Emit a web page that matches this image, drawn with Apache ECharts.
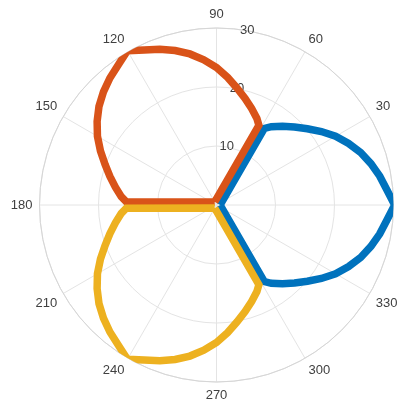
<!DOCTYPE html>
<html>
<head>
<meta charset="utf-8">
<script src="https://cdn.jsdelivr.net/npm/echarts@6/dist/echarts.min.js"></script>
<style>
  html, body { margin: 0; padding: 0; background: #fff; }
  #chart { width: 399px; height: 406px; }
</style>
</head>
<body>
<div id="chart"></div>
<script>
// petal centre directions (deg) and the colours MATLAB uses for them
var petalCenters = [0, 120, 240];
var petalColors = ['#0072BD', '#D95319', '#EDB120'];

// one petal: angle relative to its centre, radius
var profileAngles = [0, -58, -55, -50, -45, -40, -35, -30, -25, -20, -15, -10, -5, 0,
                     5, 10, 15, 20, 25, 30, 35, 40, 45, 50, 55, 58, 0];
var profileRadii = [0.6, 15.3, 16.2, 17.4, 18.7, 20.1, 21.7, 23.3, 24.7, 26.0, 27.1, 28.1, 29.0, 30.2,
                    29.0, 28.1, 27.1, 26.0, 24.7, 23.3, 21.7, 20.1, 18.7, 17.4, 16.2, 15.3, 0.6];

// axis ticks
var angleTicks = [0, 30, 60, 90, 120, 150, 180, 210, 240, 270, 300, 330];
var radiusTicks = [0, 10, 20, 30];

var labelFont = '"Liberation Sans", Arial, Helvetica, sans-serif';

var myChart = echarts.init(document.getElementById('chart'));

var series = petalCenters.map(function (c, i) {
    var pts = profileAngles.map(function (a, j) {
        return [profileRadii[j], (c + a + 360) % 360];
    });
    return {
        type: 'line',
        coordinateSystem: 'polar',
        polarIndex: 0,
        data: pts,
        symbol: 'none',
        clip: false,
        lineStyle: { color: petalColors[i], width: 7.5, join: 'miter', cap: 'butt' },
        z: 3 + i
    };
});

var option = {
    animation: false,
    backgroundColor: '#fff',
    polar: [
        { center: [216.5, 205], radius: 177 },
        { center: [216.5, 205], radius: 177 }
    ],
    angleAxis: [
        {
            polarIndex: 0,
            type: 'value',
            min: 0,
            max: 360,
            interval: 30,
            startAngle: 0,
            clockwise: false,
            axisLine: { show: true, lineStyle: { color: '#d6d6d6', width: 1 } },
            axisTick: { show: false },
            axisLabel: {
                show: true,
                margin: 7,
                color: '#404040',
                fontSize: 13,
                fontFamily: labelFont,
                formatter: function (v) {
                    return (v === 0 || v === 360 || angleTicks.indexOf(v) < 0) ? '' : String(v);
                }
            },
            splitLine: { show: true, lineStyle: { color: '#e4e4e4', width: 1 } }
        },
        {
            polarIndex: 1,
            type: 'value',
            min: 0,
            max: 360,
            startAngle: 80,
            clockwise: false,
            axisLine: { show: false },
            axisTick: { show: false },
            axisLabel: { show: false },
            splitLine: { show: false }
        }
    ],
    radiusAxis: [
        {
            polarIndex: 0,
            type: 'value',
            min: 0,
            max: 30,
            interval: 10,
            axisLine: { show: false },
            axisTick: { show: false },
            axisLabel: { show: false },
            splitLine: { show: true, lineStyle: { color: '#e4e4e4', width: 1 } }
        },
        {
            polarIndex: 1,
            type: 'value',
            min: 0,
            max: 30,
            interval: 10,
            axisLine: { show: false },
            axisTick: { show: false },
            splitLine: { show: false },
            axisLabel: {
                show: true,
                margin: 0,
                align: 'center',
                verticalAlign: 'middle',
                color: '#404040',
                fontSize: 13,
                fontFamily: labelFont,
                formatter: function (v) {
                    return (v === 0 || radiusTicks.indexOf(v) < 0) ? '' : String(v);
                }
            }
        }
    ],
    series: series
};

myChart.setOption(option);
window.addEventListener("resize", function () {
    myChart.resize();
});
</script>
</body>
</html>
